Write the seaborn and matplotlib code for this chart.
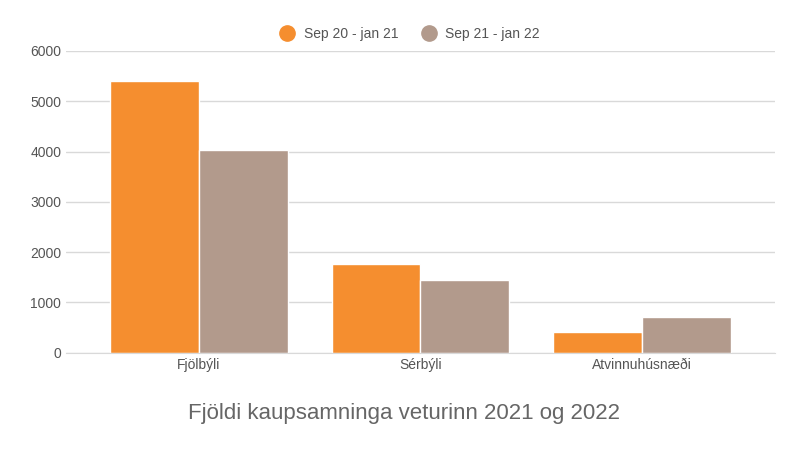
import pandas as pd
import matplotlib.pyplot as plt
import seaborn as sns
from matplotlib.lines import Line2D

categories = ["Fjölbýli", "Sérbýli", "Atvinnuhúsnæði"]
series_names = ["Sep 20 - jan 21", "Sep 21 - jan 22"]
values_2021 = [5400, 1770, 420]
values_2022 = [4030, 1450, 715]
colors = ["#f58e2f", "#b29a8c"]

df = pd.DataFrame({
    "flokkur": categories * 2,
    "tímabil": [series_names[0]] * 3 + [series_names[1]] * 3,
    "fjöldi": values_2021 + values_2022,
})

sns.set_style("white")
plt.rcParams['font.family'] = ['Liberation Sans', 'DejaVu Sans']

fig = plt.figure(figsize=(8, 4.5), dpi=100)
ax = fig.add_axes([0.0825, 0.216, 0.886, 0.671])

sns.barplot(data=df, x="flokkur", y="fjöldi", hue="tímabil",
            palette=colors, width=0.8, saturation=1, ax=ax, legend=False)

ax.set_xlim(-0.6, 2.6)
ax.set_ylim(0, 6000)
ax.set_yticks(range(0, 6001, 1000))
ax.yaxis.grid(True, color="#d9d9d9", linewidth=1)
ax.set_axisbelow(True)
for s in ["top", "right", "left"]:
    ax.spines[s].set_visible(False)
ax.spines["bottom"].set_color("#d9d9d9")
ax.tick_params(axis="both", length=0, labelsize=10, colors="#555555")
ax.set_xlabel("")
ax.set_ylabel("")

handles = [Line2D([0], [0], marker="o", linestyle="", markersize=11,
                  markerfacecolor=c, markeredgecolor=c) for c in colors]
fig.legend(handles, series_names, loc="center", bbox_to_anchor=(0.508, 0.925),
           ncol=2, frameon=False, fontsize=10, handletextpad=0.2,
           columnspacing=1.2, labelcolor="#555555")

fig.text(0.505, 0.08, "Fjöldi kaupsamninga veturinn 2021 og 2022",
         ha="center", va="center", fontsize=16, color="#666666")

plt.savefig("out.png")
plt.close()
